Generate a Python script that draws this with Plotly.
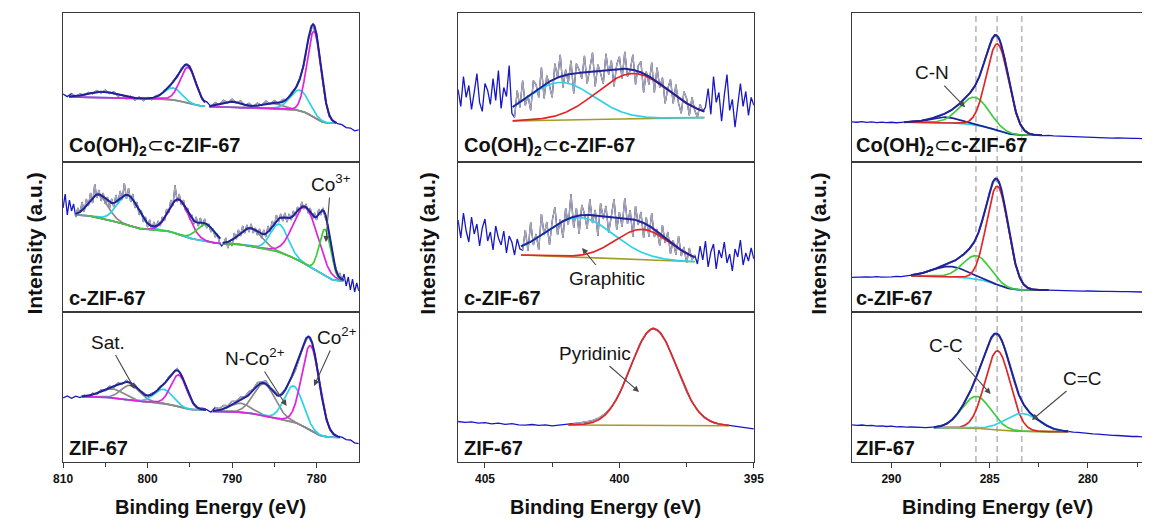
import math
import numpy as np
import plotly.graph_objects as go
from plotly.subplots import make_subplots

# ---------------------------------------------------------------- Co 2p
co_scan = (810.0, 775.0)

co_cooh_raw = [
    68.5, 65.8, 68.9, 66.0, 68.4, 67.2, 70.1, 68.6, 72.0, 69.4,
    72.3, 68.9, 70.6, 66.4, 67.8, 63.5, 66.2, 62.3, 65.4, 61.8,
    65.0, 62.7, 66.8, 67.2, 72.0, 74.1, 81.4, 85.0, 94.5, 97.4,
    96.6, 84.6, 73.9, 62.5, 60.6, 56.0, 59.9, 57.6, 62.2, 59.7,
    63.2, 59.3, 61.6, 56.9, 59.2, 55.6, 59.4, 56.9, 61.2, 58.3,
    61.8, 58.7, 63.0, 62.7, 69.5, 74.0, 84.1, 97.6, 122.2, 137.0,
    129.0, 96.0, 64.6, 45.6, 41.0, 38.5, 37.6, 34.6, 34.2, 31.4,
    32.3,
]
co_cooh_windows = [(809.3, 793.2), (792.7, 777.6)]
co_cooh_bg = [(65.5, 56.3), (55.6, 39.0)]
co_cooh_center = [805.2, 797.0, 795.2, 790.0, 785.3, 782.0, 780.3]
co_cooh_height = [6.0, 12.0, 36.0, 5.5, 5.0, 20.7, 86.7]
co_cooh_fwhm = [4.0, 2.4, 2.2, 3.0, 3.0, 2.6, 1.95]
co_cooh_kind = ["sat", "cyan", "magenta", "sat", "sat", "cyan", "magenta"]
co_cooh_win = [0, 0, 0, 1, 1, 1, 1]

co_czif_raw = [
    104, 118, 97, 112, 101, 108, 95, 104, 99, 110,
    100, 113, 106, 119, 109, 128, 114, 122, 111, 119,
    108, 115, 104, 113, 105, 117, 108, 121, 112, 129,
    113, 124, 110, 118, 104, 110, 97, 102, 90, 95,
    85, 92, 82, 90, 84, 91, 86, 95, 91, 103,
    99, 112, 106, 127, 110, 118, 107, 112, 101, 104,
    92, 97, 88, 95, 86, 94, 86, 93, 84, 88,
    80, 83, 75, 78, 70, 66, 68, 74, 64, 71,
    66, 79, 73, 82, 76, 86, 79, 87, 80, 88,
    79, 84, 77, 83, 74, 82, 75, 86, 80, 91,
    86, 97, 90, 98, 91, 99, 90, 98, 92, 101,
    96, 105, 100, 110, 103, 108, 99, 104, 93, 99,
    92, 103, 97, 104, 95, 90, 76, 66, 50, 45,
    36, 39, 31, 38, 26, 35, 22, 33, 20, 29,
    21,
]
co_czif_windows = [(808.5, 791.4), (791.1, 776.8)]
co_czif_bg = [(97.0, 68.6), (68.3, 31.3)]
co_czif_center = [805.8, 802.3, 796.3, 793.1, 787.8, 784.4, 781.3, 779.0]
co_czif_height = [23.0, 30.0, 35.0, 17.0, 18.0, 28.0, 57.0, 46.7]
co_czif_fwhm = [2.6, 3.0, 2.8, 2.5, 3.0, 2.4, 3.4, 1.6]
co_czif_kind = ["sat", "cyan", "magenta", "green", "sat", "cyan", "magenta", "green"]
co_czif_win = [0, 0, 0, 0, 1, 1, 1, 1]

co_zif_raw = [
    64.0, 66.1, 63.7, 65.9, 64.4, 66.8, 65.4, 68.9, 67.7, 72.0,
    71.4, 75.8, 74.5, 79.0, 78.0, 81.6, 78.3, 77.5, 70.8, 69.4,
    65.5, 68.6, 69.8, 75.6, 77.8, 85.0, 89.1, 93.4, 87.3, 77.0,
    65.2, 58.4, 54.2, 53.8, 52.4, 49.8, 54.5, 53.4, 56.5, 56.4,
    60.6, 60.7, 64.8, 65.0, 70.5, 72.8, 79.3, 80.0, 80.9, 74.4,
    71.3, 66.5, 69.7, 75.3, 84.3, 91.8, 105.0, 117.0, 125.7, 118.2,
    99.1, 70.6, 49.2, 34.0, 28.8, 25.3, 24.8, 22.4, 22.0, 19.1,
    18.3,
]
co_zif_windows = [(807.8, 793.1), (792.3, 777.2)]
co_zif_bg = [(65.3, 52.2), (50.6, 24.7)]
co_zif_center = [804.2, 802.0, 798.1, 796.3, 789.0, 786.2, 782.7, 780.7]
co_zif_height = [9.0, 15.0, 14.0, 32.0, 9.0, 32.0, 36.0, 85.0]
co_zif_fwhm = [3.2, 2.6, 2.6, 2.2, 3.0, 3.0, 2.6, 2.47]
co_zif_kind = ["sat", "sat", "cyan", "magenta", "sat", "sat", "cyan", "magenta"]
co_zif_win = [0, 0, 0, 0, 1, 1, 1, 1]

# ---------------------------------------------------------------- N 1s
n_scan = (406.0, 395.0)

n_cooh_raw = [
    73, 56, 86, 65, 77, 53, 70, 89, 60, 51,
    79, 72, 58, 84, 62, 92, 54, 75, 66, 97,
    49, 45, 72, 55, 82, 57, 67, 52, 82, 78,
    65, 95, 64, 87, 77, 65, 99, 85, 108, 75,
    93, 80, 102, 69, 99, 93, 84, 107, 79, 93,
    110, 76, 98, 89, 79, 109, 88, 102, 76, 98,
    106, 84, 111, 86, 92, 108, 78, 97, 101, 70,
    91, 78, 100, 70, 95, 75, 85, 59, 74, 83,
    59, 78, 59, 49, 71, 64, 47, 65, 52, 45,
    58, 51, 55, 74, 48, 86, 60, 70, 41, 67,
    88, 52, 63, 35, 58, 79, 56, 71, 47, 65,
    57,
]
n_cooh_windows = [(403.97, 396.84)]
n_cooh_bg = [(41.3, 44.7)]
n_cooh_center = [402.2, 399.5]
n_cooh_height = [38.0, 45.7]
n_cooh_fwhm = [2.94, 3.13]
n_cooh_kind = ["cyan", "red"]
n_cooh_win = [0, 0]

n_czif_raw = [
    92, 74, 99, 81, 70, 95, 78, 88, 66, 84,
    93, 71, 80, 62, 86, 74, 67, 81, 59, 76,
    70, 57, 73, 63, 62, 82, 61, 90, 67, 78,
    62, 98, 77, 90, 67, 91, 105, 77, 93, 74,
    104, 87, 118, 84, 104, 78, 107, 98, 83, 113,
    89, 102, 76, 109, 93, 106, 79, 97, 113, 82,
    100, 85, 114, 88, 102, 75, 106, 87, 100, 74,
    95, 75, 99, 75, 83, 66, 87, 69, 80, 58,
    72, 57, 76, 56, 65, 49, 64, 52, 57, 48,
    66, 52, 71, 45, 60, 68, 43, 62, 54, 70,
    49, 58, 41, 63, 55, 72, 47, 59, 51, 64,
    53,
]
n_czif_windows = [(403.66, 397.2)]
n_czif_bg = [(57.0, 50.3)]
n_czif_center = [401.47, 399.15]
n_czif_height = [39.8, 30.3]
n_czif_fwhm = [2.94, 2.35]
n_czif_kind = ["cyan", "red"]
n_czif_win = [0, 0]

n_zif_raw = [
    40.5, 39.6, 40.1, 38.8, 39.4, 38.1, 38.9, 37.6, 38.4, 37.2,
    36.9, 37.5, 36.6, 37.1, 36.2, 36.8, 37.3, 37.9, 39.1, 40.0,
    41.3, 44.2, 48.9, 56.8, 68.2, 84.1, 100.6, 117.4, 128.6, 133.9,
    129.7, 119.5, 103.2, 86.9, 70.3, 58.1, 48.6, 43.2, 39.4, 37.9,
    36.8, 35.9, 34.6, 33.7, 33.1,
]
n_zif_windows = [(401.9, 395.93)]
n_zif_bg = [(37.0, 36.3)]
n_zif_center = [398.73]
n_zif_height = [96.8]
n_zif_fwhm = [2.0]
n_zif_kind = ["red"]
n_zif_win = [0]

# ---------------------------------------------------------------- C 1s
c_scan = (292.0, 277.25)

c_cooh_raw = [
    40.4, 40.0, 40.6, 39.9, 40.3, 39.7, 40.1, 39.6, 40.0, 39.5,
    39.9, 40.2, 40.5, 40.8, 41.4, 42.1, 43.7, 45.2, 46.6, 49.1,
    51.3, 55.2, 58.8, 64.1, 69.3, 76.6, 87.1, 102.6, 118.2, 127.9,
    123.2, 105.6, 79.8, 57.1, 40.3, 32.4, 28.6, 27.5, 26.9, 26.6,
    26.8, 26.2, 26.0, 25.7, 25.9, 25.3, 25.4, 24.9, 25.1, 24.6,
    24.8, 24.4, 24.5, 24.1, 24.3, 23.9, 24.0, 23.7, 23.8, 23.6,
]
c_cooh_windows = [(289.35, 282.35)]
c_cooh_bg = [(40.0, 27.0)]
c_cooh_center = [287.27, 285.77, 284.6]
c_cooh_height = [5.7, 27.8, 87.3]
c_cooh_fwhm = [1.7, 1.74, 1.33]
c_cooh_kind = ["navy", "green", "red"]
c_cooh_win = [0, 0, 0]

c_czif_raw = [
    34.6, 34.9, 34.5, 35.1, 34.8, 35.3, 34.9, 35.4, 35.2, 35.6,
    35.4, 36.1, 36.6, 37.3, 38.6, 39.7, 41.8, 43.1, 45.5, 47.0,
    49.3, 51.3, 54.9, 58.4, 63.6, 70.6, 82.7, 99.8, 120.4, 132.8,
    128.3, 107.0, 79.2, 52.3, 35.9, 27.2, 23.8, 22.6, 22.2, 22.0,
    21.9, 21.6, 21.8, 21.3, 21.5, 21.1, 21.2, 20.9, 21.0, 20.7,
    20.9, 20.6, 20.7, 20.4, 20.5, 20.3, 20.4, 20.1, 20.3, 20.0,
]
c_czif_windows = [(289.0, 282.0)]
c_czif_bg = [(36.0, 22.0)]
c_czif_center = [287.02, 285.68, 284.6]
c_czif_height = [10.5, 23.5, 98.7]
c_czif_fwhm = [2.1, 1.6, 1.3]
c_czif_kind = ["navy", "green", "red"]
c_czif_win = [0, 0, 0]

c_zif_raw = [
    37.2, 36.6, 37.0, 36.3, 36.7, 35.9, 36.2, 35.5, 35.8, 35.1,
    35.4, 34.8, 35.0, 34.5, 34.7, 34.3, 34.6, 35.1, 36.2, 37.9,
    41.0, 45.6, 52.2, 60.8, 70.1, 81.3, 93.8, 107.9, 120.6, 128.1,
    125.6, 114.9, 97.3, 80.2, 65.9, 56.8, 50.1, 45.3, 41.4, 37.8,
    35.2, 33.1, 31.8, 31.0, 30.4, 29.8, 29.6, 28.9, 28.7, 28.1,
    27.9, 27.3, 27.1, 26.6, 26.5, 26.0, 25.9, 25.5, 25.6, 25.2,
]
c_zif_windows = [(287.85, 281.0)]
c_zif_bg = [(34.3, 30.3)]
c_zif_center = [285.68, 284.6, 283.35]
c_zif_height = [32.0, 79.0, 17.8]
c_zif_fwhm = [1.74, 1.5, 2.0]
c_zif_kind = ["green", "red", "cyan"]
c_zif_win = [0, 0, 0]

c1s_marker_lines = [285.7, 284.62, 283.37]

sample_names = [
    "Co(OH)<sub>2</sub><span style='font-weight:normal'>\u2282</span>c-ZIF-67",
    "c-ZIF-67",
    "ZIF-67",
]

# ---------------------------------------------------------------- styles
RAW_OUT = "#1717c4"
RAW_IN = "#a9a9a9"
ENVELOPE = "#1f2398"
COMP = {"sat": "#8a8a8a", "cyan": "#2cd2e6", "magenta": "#de22de",
        "green": "#3ccc3c", "red": "#e02626", "navy": "#1f2398"}
BG_GRAY = "#8a8a8a"
BG_OLIVE = "#a39d26"
BG_CYAN = "#2cd2e6"
FRAME = "#3a3a3a"

_erf = np.vectorize(math.erf)
FW2SIG = 2.0 * math.sqrt(2.0 * math.log(2.0))


def gauss(e, c, h, w):
    s = w / FW2SIG
    return h * np.exp(-0.5 * ((e - c) / s) ** 2)


def shirley(e, hi, lo, b_hi, b_lo, cs, hs, ws):
    """Shirley-type step background built from the fitted component areas."""
    def cum(x):
        tot = 0.0
        for c, h, w in zip(cs, hs, ws):
            s = w / FW2SIG
            tot = tot + h * s * 0.5 * (1.0 + _erf((x - c) / (s * math.sqrt(2.0))))
        return tot
    a = cum(e) - cum(lo)
    a_tot = cum(hi) - cum(lo)
    return b_lo + (b_hi - b_lo) * a / a_tot


fig = make_subplots(rows=3, cols=3)


def draw_spectrum(row, col, scan, raw, windows, bg_ends, centers, heights,
                  fwhms, kinds, win_idx, bg_kind, bg_color):
    e = np.linspace(scan[0], scan[1], len(raw))
    y = np.asarray(raw, dtype=float)
    line = dict(mode="lines", hoverinfo="skip", showlegend=False)
    # full measured scan
    fig.add_trace(go.Scatter(x=e, y=y, line=dict(color=RAW_OUT, width=1.3), **line),
                  row=row, col=col)
    # measured points inside the fitting windows
    gx, gy = [], []
    for hi, lo in windows:
        m = (e <= hi) & (e >= lo)
        gx += list(e[m]) + [None]
        gy += list(y[m]) + [None]
    fig.add_trace(go.Scatter(x=gx, y=gy, line=dict(color=RAW_IN, width=1.3), **line),
                  row=row, col=col)
    for w, ((hi, lo), (b_hi, b_lo)) in enumerate(zip(windows, bg_ends)):
        ef = np.linspace(hi, lo, 500)
        idx = [i for i in range(len(centers)) if win_idx[i] == w]
        cs = [centers[i] for i in idx]
        hs = [heights[i] for i in idx]
        ws = [fwhms[i] for i in idx]
        if bg_kind == "shirley":
            bg = shirley(ef, hi, lo, b_hi, b_lo, cs, hs, ws)
        else:
            bg = b_hi + (b_lo - b_hi) * (hi - ef) / (hi - lo)
        fig.add_trace(go.Scatter(x=ef, y=bg, line=dict(color=bg_color, width=1.6), **line),
                      row=row, col=col)
        total = np.array(bg)
        for i in idx:
            g = gauss(ef, centers[i], heights[i], fwhms[i])
            total = total + g
            fig.add_trace(go.Scatter(x=ef, y=bg + g,
                                     line=dict(color=COMP[kinds[i]], width=1.7), **line),
                          row=row, col=col)
        if len(idx) > 1:
            fig.add_trace(go.Scatter(x=ef, y=total, line=dict(color=ENVELOPE, width=2.0), **line),
                          row=row, col=col)


draw_spectrum(1, 1, co_scan, co_cooh_raw, co_cooh_windows, co_cooh_bg, co_cooh_center,
              co_cooh_height, co_cooh_fwhm, co_cooh_kind, co_cooh_win, "shirley", BG_GRAY)
draw_spectrum(2, 1, co_scan, co_czif_raw, co_czif_windows, co_czif_bg, co_czif_center,
              co_czif_height, co_czif_fwhm, co_czif_kind, co_czif_win, "shirley", BG_GRAY)
draw_spectrum(3, 1, co_scan, co_zif_raw, co_zif_windows, co_zif_bg, co_zif_center,
              co_zif_height, co_zif_fwhm, co_zif_kind, co_zif_win, "shirley", BG_GRAY)

draw_spectrum(1, 2, n_scan, n_cooh_raw, n_cooh_windows, n_cooh_bg, n_cooh_center,
              n_cooh_height, n_cooh_fwhm, n_cooh_kind, n_cooh_win, "linear", BG_OLIVE)
draw_spectrum(2, 2, n_scan, n_czif_raw, n_czif_windows, n_czif_bg, n_czif_center,
              n_czif_height, n_czif_fwhm, n_czif_kind, n_czif_win, "linear", BG_OLIVE)
draw_spectrum(3, 2, n_scan, n_zif_raw, n_zif_windows, n_zif_bg, n_zif_center,
              n_zif_height, n_zif_fwhm, n_zif_kind, n_zif_win, "linear", BG_OLIVE)

draw_spectrum(1, 3, c_scan, c_cooh_raw, c_cooh_windows, c_cooh_bg, c_cooh_center,
              c_cooh_height, c_cooh_fwhm, c_cooh_kind, c_cooh_win, "shirley", BG_CYAN)
draw_spectrum(2, 3, c_scan, c_czif_raw, c_czif_windows, c_czif_bg, c_czif_center,
              c_czif_height, c_czif_fwhm, c_czif_kind, c_czif_win, "shirley", BG_CYAN)
draw_spectrum(3, 3, c_scan, c_zif_raw, c_zif_windows, c_zif_bg, c_zif_center,
              c_zif_height, c_zif_fwhm, c_zif_kind, c_zif_win, "shirley", BG_OLIVE)

# ---------------------------------------------------------------- axes
W, H = 1152, 520
x_dom = [[54 / W, 355 / W], [456 / W, 757 / W], [857 / W, 1.0]]
y_dom = [[358 / H, 507 / H], [208 / H, 358 / H], [58 / H, 208 / H]]
x_rng = [list(co_scan), list(n_scan), list(c_scan)]
major = [[810, 800, 790, 780], [405, 400, 395], [290, 285, 280]]
minor = [[805, 795, 785], [402.5, 397.5], [287.5, 282.5, 277.5]]
tick_font = dict(family="Arial", size=12, color="#111111", weight="bold")


def axis_id(n):
    return "" if n == 1 else str(n)


for r in range(1, 4):
    for c in range(1, 4):
        n = (r - 1) * 3 + c
        xk = "xaxis" + axis_id(n)
        yk = "yaxis" + axis_id(n)
        xa = dict(domain=x_dom[c - 1], range=x_rng[c - 1], showline=True, mirror=True,
                  linecolor=FRAME, linewidth=1.4, showgrid=False, zeroline=False,
                  tickvals=major[c - 1], tickfont=tick_font)
        if r == 3:
            xa.update(ticks="outside", ticklen=5, tickwidth=1.3, tickcolor=FRAME,
                      showticklabels=True,
                      minor=dict(tickvals=minor[c - 1], ticks="outside", ticklen=4,
                                 tickwidth=1.3, tickcolor=FRAME))
        else:
            xa.update(ticks="", showticklabels=False)
        fig.layout[xk].update(xa)
        fig.layout[yk].update(domain=y_dom[r - 1], range=[0, 150], showline=True,
                              mirror=(c != 3), linecolor=FRAME, linewidth=1.4,
                              showgrid=False, zeroline=False, ticks="",
                              showticklabels=False)

# reference energies of the C 1s components
for e0 in c1s_marker_lines:
    fig.add_shape(type="line", xref="x3", yref="paper", x0=e0, x1=e0,
                  y0=58 / H, y1=507 / H, layer="below",
                  line=dict(color="#b9b9b9", width=1.6, dash="6px,4px"))

annotations = []
# sample names in the lower-left corner of each panel
for r in range(1, 4):
    for c in range(1, 4):
        n = (r - 1) * 3 + c
        annotations.append(dict(
            text=sample_names[r - 1], xref=f"x{axis_id(n)} domain",
            yref=f"y{axis_id(n)} domain",
            x=0.012 if c < 3 else 0.008, y=0.01, xanchor="left", yanchor="bottom",
            showarrow=False,
            font=dict(family="Arial", size=20, color="#111111", weight="bold")))

# axis titles
for c in range(3):
    x0, x1 = x_dom[c]
    annotations.append(dict(text="Binding Energy (eV)", xref="paper", yref="paper",
                            x=(x0 + x1) / 2, y=1 - 506.5 / H, xanchor="center",
                            yanchor="middle", showarrow=False,
                            font=dict(family="Arial", size=20, color="#111111",
                                      weight="bold")))
for xp in [24, 424, 822]:
    annotations.append(dict(text="Intensity (a.u.)", xref="paper", yref="paper",
                            x=xp / W, y=1 - 244 / H, xanchor="center", yanchor="middle",
                            textangle=-90, showarrow=False,
                            font=dict(family="Arial", size=21, color="#111111",
                                      weight="bold")))

# peak labels: (subplot, text, text_x, text_y, head_x, head_y)
peak_labels = [
    (7, "Sat.", 804.66, 120, 801.53, 73),
    (7, "N-Co<sup>2+</sup>", 787.26, 105, 783.55, 56),
    (7, "Co<sup>2+</sup>", 777.6, 126, 780.3, 76),
    (4, "Co<sup>3+</sup>", 778.33, 129, 778.9, 70),
    (5, "Graphitic", 400.48, 34, 401.39, 64),
    (8, "Pyridinic", 400.92, 109, 399.27, 70),
    (3, "C-N", 287.95, 90, 286.25, 55),
    (9, "C-C", 287.2, 117, 284.95, 68),
    (9, "C=C", 280.3, 84, 282.85, 42),
]
for n, txt, tx, ty, hx, hy in peak_labels:
    xr_ = "x" + axis_id(n)
    yr_ = "y" + axis_id(n)
    annotations.append(dict(text=txt, xref=xr_, yref=yr_, x=hx, y=hy,
                            axref=xr_, ayref=yr_, ax=tx, ay=ty, showarrow=True,
                            arrowhead=2, arrowsize=1.1, arrowwidth=1.1,
                            arrowcolor="#4a4a4a", borderpad=2,
                            font=dict(family="Arial", size=19, color="#151515")))

fig.update_layout(width=W, height=H, margin=dict(l=0, r=0, t=0, b=0),
                  paper_bgcolor="white", plot_bgcolor="white", showlegend=False,
                  annotations=annotations)

fig.write_html("out.html")
